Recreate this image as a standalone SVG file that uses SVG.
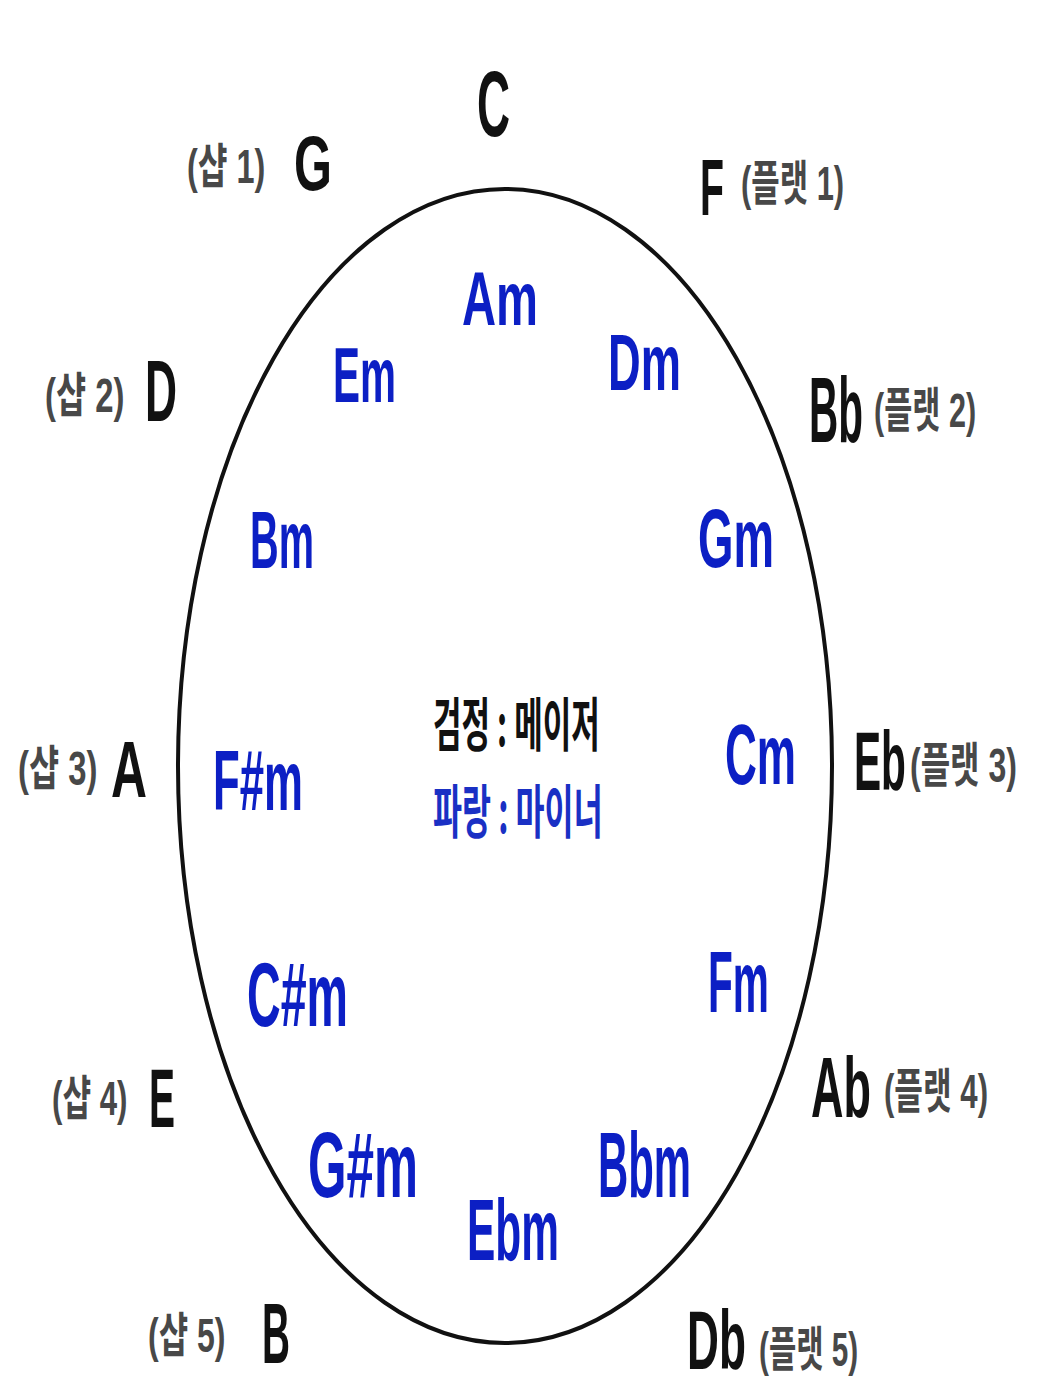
<svg xmlns="http://www.w3.org/2000/svg" width="1040" height="1387" viewBox="0 0 1040 1387">
<style>
.maj{font-family:"Liberation Sans","Noto Sans",sans-serif;font-weight:bold;fill:#111;}
.min{font-family:"Liberation Sans","Noto Sans",sans-serif;font-weight:bold;fill:#0c1fc4;}
.kr{font-family:"Liberation Sans","Noto Sans CJK KR",sans-serif;font-size:48px;fill:#484848;font-weight:bold;}
.ck{font-family:"Noto Sans CJK KR","Liberation Sans",sans-serif;font-size:58px;font-weight:bold;}
</style>
<rect width="1040" height="1387" fill="#fff"/>
<g id="connectors">
<ellipse id="circle" cx="505" cy="766" rx="327" ry="577" fill="none" stroke="#111" stroke-width="4"/>
</g>
<g id="legend">
<text class="ck" fill="#111" transform="translate(433,746) scale(0.535,1)">검정 : 메이저</text>
<text class="ck" fill="#1a30c4" transform="translate(433,833) scale(0.544,1)">파랑 : 마이너</text>
</g>
<g id="major-C"><text class="maj" font-size="92" transform="translate(477,136) scale(0.497,1)">C</text></g>
<g id="major-G"><text class="maj" font-size="78" transform="translate(294,190) scale(0.626,1)">G</text><text class="kr" transform="translate(187,183) scale(0.675,1)">(샵 1)</text></g>
<g id="major-F"><text class="maj" font-size="80" transform="translate(700,215) scale(0.491,1)">F</text><text class="kr" transform="translate(741,200) scale(0.643,1)">(플랫 1)</text></g>
<g id="major-D"><text class="maj" font-size="88" transform="translate(145,421) scale(0.504,1)">D</text><text class="kr" transform="translate(45,412) scale(0.683,1)">(샵 2)</text></g>
<g id="major-Bb"><text class="maj" font-size="92" transform="translate(809,442) scale(0.44,1)">Bb</text><text class="kr" transform="translate(874,427) scale(0.637,1)">(플랫 2)</text></g>
<g id="major-A"><text class="maj" font-size="80" transform="translate(111,797) scale(0.623,1)">A</text><text class="kr" transform="translate(18,785) scale(0.683,1)">(샵 3)</text></g>
<g id="major-Eb"><text class="maj" font-size="84" transform="translate(854,790) scale(0.484,1)">Eb</text><text class="kr" transform="translate(910,782) scale(0.667,1)">(플랫 3)</text></g>
<g id="major-E"><text class="maj" font-size="84" transform="translate(149,1127) scale(0.464,1)">E</text><text class="kr" transform="translate(52,1115) scale(0.65,1)">(샵 4)</text></g>
<g id="major-Ab"><text class="maj" font-size="86" transform="translate(811,1117) scale(0.523,1)">Ab</text><text class="kr" transform="translate(884,1108) scale(0.649,1)">(플랫 4)</text></g>
<g id="major-B"><text class="maj" font-size="86" transform="translate(262,1363) scale(0.451,1)">B</text><text class="kr" transform="translate(148,1352) scale(0.667,1)">(샵 5)</text></g>
<g id="major-Db"><text class="maj" font-size="84" transform="translate(687,1369) scale(0.526,1)">Db</text><text class="kr" transform="translate(759,1366) scale(0.619,1)">(플랫 5)</text></g>
<g id="minor-Am"><text class="min" font-size="76" transform="translate(462,325) scale(0.621,1)">Am</text></g>
<g id="minor-Em"><text class="min" font-size="78" transform="translate(333,402) scale(0.519,1)">Em</text></g>
<g id="minor-Dm"><text class="min" font-size="80" transform="translate(608,390) scale(0.566,1)">Dm</text></g>
<g id="minor-Bm"><text class="min" font-size="82" transform="translate(250,568) scale(0.484,1)">Bm</text></g>
<g id="minor-Gm"><text class="min" font-size="84" transform="translate(698,567) scale(0.543,1)">Gm</text></g>
<g id="minor-Fsm"><text class="min" font-size="86" transform="translate(213,810) scale(0.509,1)">F#m</text></g>
<g id="minor-Cm"><text class="min" font-size="86" transform="translate(725,784) scale(0.513,1)">Cm</text></g>
<g id="minor-Csm"><text class="min" font-size="90" transform="translate(247,1026) scale(0.518,1)">C#m</text></g>
<g id="minor-Fm"><text class="min" font-size="88" transform="translate(708,1012) scale(0.462,1)">Fm</text></g>
<g id="minor-Gsm"><text class="min" font-size="92" transform="translate(308,1197) scale(0.538,1)">G#m</text></g>
<g id="minor-Bbm"><text class="min" font-size="92" transform="translate(598,1197) scale(0.455,1)">Bbm</text></g>
<g id="minor-Ebm"><text class="min" font-size="88" transform="translate(467,1260) scale(0.482,1)">Ebm</text></g>
</svg>
